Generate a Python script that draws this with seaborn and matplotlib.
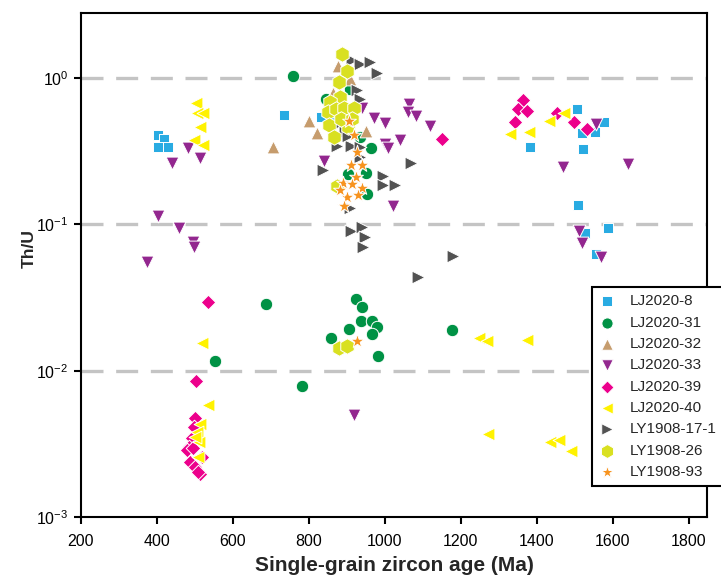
import numpy as np
import pandas as pd
import matplotlib
matplotlib.use("Agg")
import matplotlib.pyplot as plt
import seaborn as sns
from matplotlib.ticker import LogLocator, NullLocator

# ---------------- data (age in Ma, Th/U) ----------------
lj8_age = [402, 419, 403, 428, 734, 832, 864, 1505, 1381, 1521, 1518, 1553, 1576, 1508, 1588, 1526, 1555]
lj8_thu = [0.408, 0.381, 0.336, 0.336, 0.556, 0.544, 0.508, 0.617, 0.336, 0.326, 0.419, 0.428, 0.50, 0.1355, 0.094, 0.087, 0.063]

lj31_age = [758, 844, 908, 934, 963, 903, 950, 952, 924, 939, 937, 965, 980, 965, 905, 858, 982, 1176, 782, 687, 553]
lj31_thu = [1.037, 0.718, 0.837, 0.398, 0.331, 0.221, 0.223, 0.161, 0.031, 0.0273, 0.0218, 0.0219, 0.0199, 0.0178, 0.0192, 0.0167, 0.0126, 0.0189, 0.0079, 0.0285, 0.0116]

lj32_age = [706, 800, 820, 950, 908, 864, 877, 851]
lj32_thu = [0.336, 0.511, 0.419, 0.436, 0.98, 0.786, 1.208, 0.671]

lj33_age = [440, 482, 514, 402, 459, 495, 497, 373, 840, 971, 1000, 1040, 1000, 1009, 1063, 1062, 1082, 1119, 1022, 939, 918, 1469, 1640, 1555, 1511, 1520, 1570]
lj33_thu = [0.261, 0.334, 0.284, 0.114, 0.094, 0.076, 0.0703, 0.0552, 0.269, 0.529, 0.495, 0.377, 0.354, 0.332, 0.659, 0.581, 0.547, 0.473, 0.134, 0.626, 0.00497, 0.2475, 0.257, 0.485, 0.0904, 0.0742, 0.060]

lj39_age = [1364, 1351, 1373, 1342, 1151, 1452, 1498, 1533, 535, 504, 500, 491, 485, 480, 496, 487, 500, 513, 509, 518, 497]
lj39_thu = [0.707, 0.611, 0.598, 0.498, 0.383, 0.574, 0.498, 0.448, 0.0296, 0.00853, 0.00472, 0.00345, 0.0030, 0.00287, 0.00294, 0.00236, 0.0022, 0.00196, 0.00204, 0.00258, 0.00412]

lj40_age = [503, 506, 522, 513, 497, 522, 518, 535, 1329, 1380, 1432, 1471, 1248, 1268, 1373, 1272, 1436, 1458, 1489, 513, 506, 511, 500, 509]
lj40_thu = [0.678, 0.579, 0.579, 0.46, 0.377, 0.347, 0.0155, 0.0058, 0.414, 0.43, 0.508, 0.579, 0.0166, 0.016, 0.0162, 0.00369, 0.00327, 0.00336, 0.00282, 0.00432, 0.00382, 0.00327, 0.00353, 0.00258]

ly17_age = [913, 934, 961, 980, 926, 934, 882, 895, 873, 912, 934, 934, 838, 1070, 996, 996, 1026, 908, 912, 939, 947, 943, 1180, 1088, 903]
ly17_thu = [1.327, 1.247, 1.28, 1.077, 0.828, 0.718, 0.493, 0.428, 0.343, 0.343, 0.338, 0.288, 0.234, 0.264, 0.214, 0.1856, 0.1856, 0.1286, 0.090, 0.0963, 0.0825, 0.0703, 0.061, 0.0438, 0.40]

ly26_age = [886, 901, 879, 882, 856, 851, 872, 893, 918, 853, 867, 903, 873, 880, 899, 884, 913]
ly26_thu = [1.455, 1.122, 0.935, 0.742, 0.68, 0.586, 0.614, 0.621, 0.621, 0.477, 0.397, 0.465, 0.182, 0.01434, 0.0148, 0.525, 0.525]

ly93_age = [906, 919, 926, 910, 940, 924, 889, 913, 939, 899, 929, 892, 882, 927]
ly93_thu = [0.511, 0.408, 0.3105, 0.2555, 0.2555, 0.2115, 0.1925, 0.1886, 0.178, 0.1545, 0.1585, 0.134, 0.1716, 0.016]

series = [
    ("LJ2020-8", lj8_age, lj8_thu, "s", "#29ABE2", 60),
    ("LJ2020-31", lj31_age, lj31_thu, "o", "#009245", 80),
    ("LJ2020-32", lj32_age, lj32_thu, "^", "#C69C6D", 85),
    ("LJ2020-33", lj33_age, lj33_thu, "v", "#93278F", 85),
    ("LJ2020-39", lj39_age, lj39_thu, "D", "#EC008C", 55),
    ("LJ2020-40", lj40_age, lj40_thu, "<", "#FFF200", 85),
    ("LY1908-17-1", ly17_age, ly17_thu, ">", "#525252", 85),
    ("LY1908-26", ly26_age, ly26_thu, "h", "#D9E021", 125),
    ("LY1908-93", ly93_age, ly93_thu, "*", "#F7931E", 110),
]

# ---------------- style ----------------
sns.set_style("ticks")
plt.rcParams["font.family"] = ["Liberation Sans", "DejaVu Sans"]
plt.rcParams["mathtext.fontset"] = "custom"
plt.rcParams["mathtext.rm"] = "Liberation Sans"
plt.rcParams["mathtext.it"] = "Liberation Sans:italic"
plt.rcParams["mathtext.bf"] = "Liberation Sans:bold"

fig = plt.figure(figsize=(7.21, 5.77), dpi=100)
ax = fig.add_axes([81 / 721, 1 - 517 / 577, (707 - 81) / 721, (517 - 13) / 577])

for y in [1, 0.1, 0.01]:
    ax.axhline(y, color="#C4C4C4", lw=2.4, ls=(0, (6.6, 3.8)), zorder=0)

for name, xs, ys, mk, col, s in series:
    df = pd.DataFrame({"age": xs, "thu": ys})
    sns.scatterplot(data=df, x="age", y="thu", marker=mk, color=col, s=s,
                    edgecolor="white", linewidth=0.7, ax=ax, label=name, zorder=3)

ax.set_yscale("log")
ax.set_xlim(200, 1848)
ax.set_ylim(1e-3, 2.78)
ax.set_xticks(np.arange(200, 1801, 200))
ax.yaxis.set_major_locator(LogLocator(base=10, numticks=10))
ax.yaxis.set_minor_locator(NullLocator())
ax.tick_params(axis="both", which="major", direction="out", length=5, width=1.5,
               labelsize=11.5, colors="black")
ax.tick_params(axis="x", pad=7)
ax.tick_params(axis="y", pad=4)
for sp in ax.spines.values():
    sp.set_linewidth(1.5)
    sp.set_color("black")

ax.set_xlabel("Single-grain zircon age (Ma)", fontsize=15, fontweight="bold", labelpad=5)
ax.set_ylabel("Th/U", fontsize=12.5, fontweight="bold")
ax.yaxis.set_label_coords(-0.07, 0.532)

leg = ax.legend(loc="upper left", bbox_to_anchor=(592 / 721, 1 - 287 / 577),
                bbox_transform=fig.transFigure, frameon=True, fancybox=False,
                framealpha=1, edgecolor="black", fontsize=11, handletextpad=1.0,
                labelspacing=0.48, borderpad=0.48, handlelength=1.0,
                borderaxespad=0, markerscale=0.9)
leg.get_frame().set_linewidth(1.5)
leg.set_zorder(10)

fig.savefig("out.png", dpi=100)
